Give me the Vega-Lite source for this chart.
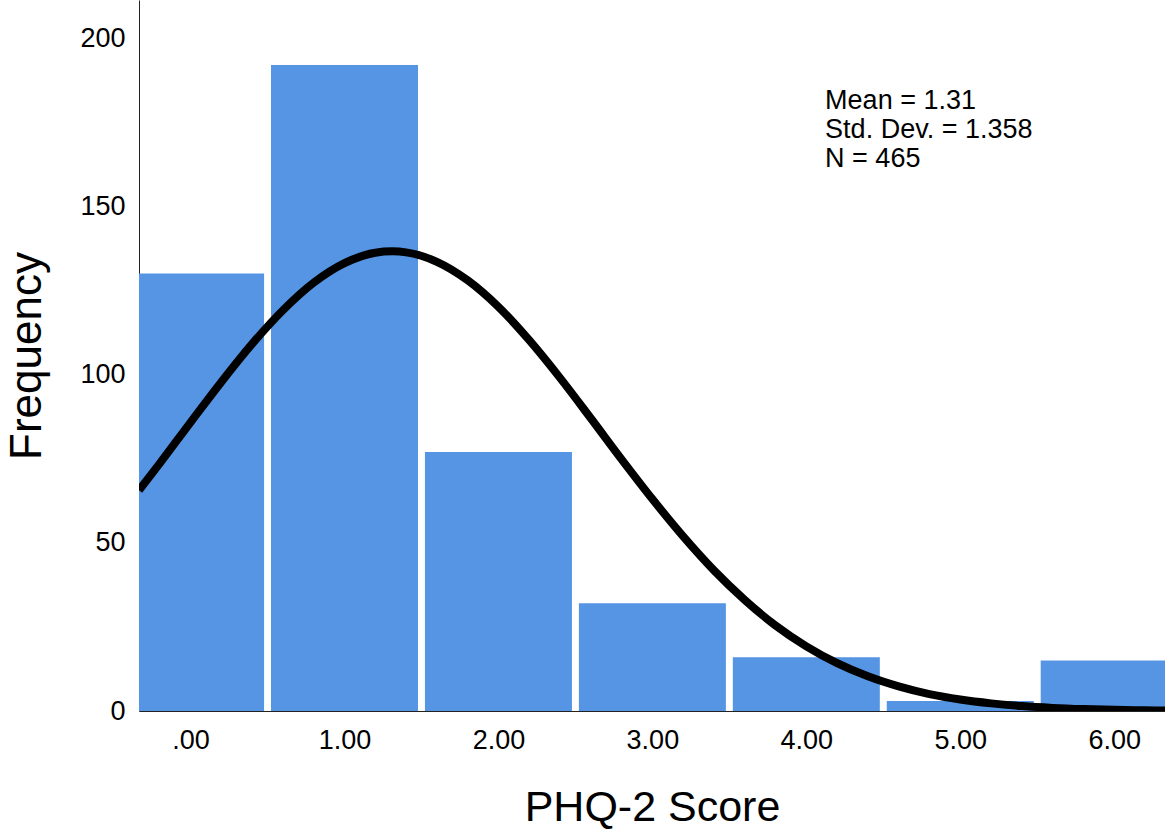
{
  "$schema": "https://vega.github.io/schema/vega-lite/v6.json",
  "autosize": "none",
  "width": 1026,
  "height": 711,
  "padding": {"left": 139, "top": 0, "right": 0, "bottom": 125},
  "background": "white",
  "config": {
    "view": {"stroke": null},
    "font": "Liberation Sans",
    "axis": {"grid": false, "ticks": false, "tickSize": 0, "labelColor": "black", "titleColor": "black", "labelFont": "Liberation Sans", "titleFont": "Liberation Sans", "titleFontWeight": "normal", "domainColor": "#222222", "zindex": 1}
  },
  "datasets": {
    "bars": [
      {"score": 0, "frequency": 130},
      {"score": 1, "frequency": 192},
      {"score": 2, "frequency": 77},
      {"score": 3, "frequency": 32},
      {"score": 4, "frequency": 16},
      {"score": 5, "frequency": 3},
      {"score": 6, "frequency": 15}
    ],
    "curve": [
      {"x": -0.335, "y": 65.6}, {"x": -0.2, "y": 73.6}, {"x": 0, "y": 85.8}, {"x": 0.2, "y": 97.8},
      {"x": 0.4, "y": 109.1}, {"x": 0.6, "y": 119.1}, {"x": 0.8, "y": 127.3}, {"x": 1.0, "y": 133.1},
      {"x": 1.2, "y": 136.2}, {"x": 1.31, "y": 136.6}, {"x": 1.4, "y": 136.3}, {"x": 1.6, "y": 133.5},
      {"x": 1.8, "y": 128.0}, {"x": 2.0, "y": 120.1}, {"x": 2.2, "y": 110.2}, {"x": 2.4, "y": 99.0},
      {"x": 2.6, "y": 87.0}, {"x": 2.8, "y": 74.8}, {"x": 3.0, "y": 63.0}, {"x": 3.2, "y": 51.9},
      {"x": 3.4, "y": 41.8}, {"x": 3.6, "y": 33.0}, {"x": 3.8, "y": 25.4}, {"x": 4.0, "y": 19.2},
      {"x": 4.2, "y": 14.2}, {"x": 4.4, "y": 10.3}, {"x": 4.6, "y": 7.3}, {"x": 4.8, "y": 5.0},
      {"x": 5.0, "y": 3.4}, {"x": 5.2, "y": 2.26}, {"x": 5.4, "y": 1.46}, {"x": 5.6, "y": 0.93},
      {"x": 5.8, "y": 0.58}, {"x": 6.0, "y": 0.35}, {"x": 6.2, "y": 0.21}, {"x": 6.33, "y": 0.15}
    ],
    "stats": [
      {"label": "Mean = 1.31", "tx": 4.122, "ty": 178.9},
      {"label": "Std. Dev. = 1.358", "tx": 4.122, "ty": 170.3},
      {"label": "N = 465", "tx": 4.122, "ty": 161.7}
    ]
  },
  "layer": [
    {
      "data": {"name": "bars"},
      "mark": {"type": "bar", "color": "#5595e4", "width": 147, "clip": true},
      "encoding": {
        "x": {
          "field": "score", "type": "quantitative",
          "scale": {"domain": [-0.335, 6.33], "nice": false, "zero": false, "padding": 0},
          "axis": {
            "title": "PHQ-2 Score", "values": [0, 1, 2, 3, 4, 5, 6],
            "labelExpr": "datum.value == 0 ? '.00' : format(datum.value, '.2f')",
            "labelFontSize": 27, "labelPadding": 16, "titleFontSize": 43, "titlePadding": 33,
            "labelFlush": false, "labelOverlap": false
          }
        },
        "y": {
          "field": "frequency", "type": "quantitative",
          "scale": {"domain": [0, 211.3], "nice": false, "padding": 0},
          "axis": {
            "title": "Frequency", "values": [0, 50, 100, 150, 200],
            "labelFontSize": 27, "labelPadding": 14, "titleFontSize": 44, "titlePadding": 30
          }
        }
      }
    },
    {
      "data": {"name": "curve"},
      "mark": {"type": "line", "color": "black", "strokeWidth": 8, "interpolate": "monotone", "clip": true},
      "encoding": {
        "x": {"field": "x", "type": "quantitative"},
        "y": {"field": "y", "type": "quantitative"}
      }
    },
    {
      "data": {"name": "stats"},
      "mark": {"type": "text", "align": "left", "baseline": "alphabetic", "fontSize": 27, "color": "black", "font": "Liberation Sans"},
      "encoding": {
        "x": {"field": "tx", "type": "quantitative"},
        "y": {"field": "ty", "type": "quantitative"},
        "text": {"field": "label"}
      }
    }
  ]
}
